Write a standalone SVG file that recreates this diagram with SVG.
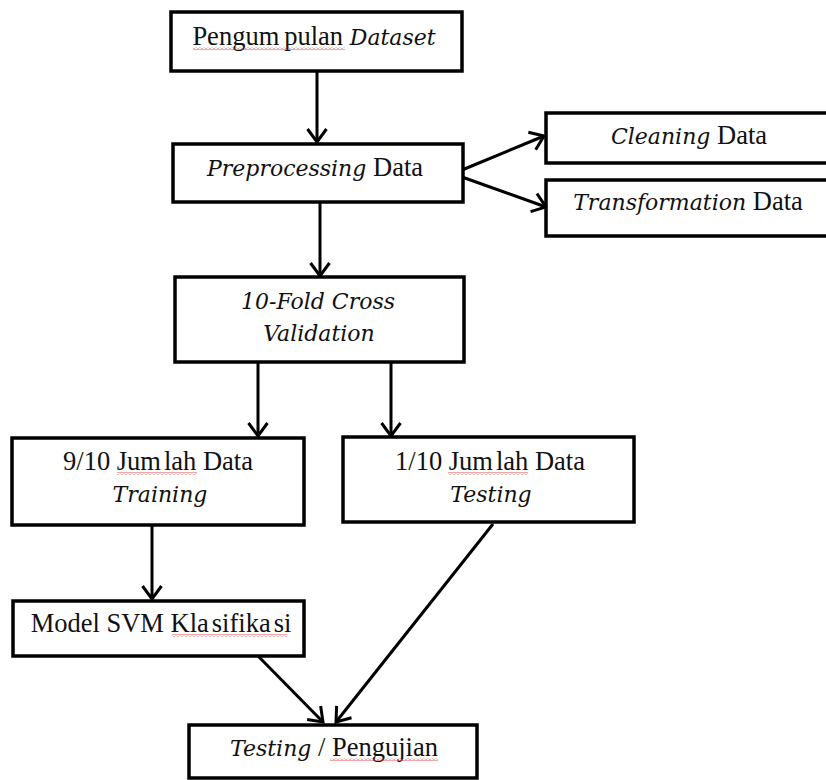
<svg xmlns="http://www.w3.org/2000/svg" width="826" height="780" viewBox="0 0 826 780">
<style>
.box{fill:#fff;stroke:#000;stroke-width:3.5}
.t{font-family:"Liberation Serif","Times New Roman",serif;font-size:26.5px;fill:#111;text-anchor:middle}
.i{font-family:"DejaVu Serif",serif;font-style:italic;font-size:22px}
.c{stroke:#000;stroke-width:3;fill:none}
.sq{fill:url(#sq)}
</style>
<defs>
<marker id="ah" markerUnits="userSpaceOnUse" viewBox="-3 -3 19 25" refX="13" refY="9.5" markerWidth="19" markerHeight="25" orient="auto">
<path d="M0,0 L13,9.5 L0,19" fill="none" stroke="#000" stroke-width="3"/>
</marker>
<pattern id="sq" width="4" height="3" patternUnits="userSpaceOnUse">
<path d="M0,2.5 L2,0.5 L4,2.5" fill="none" stroke="#e03a3a" stroke-width="0.9"/>
</pattern>
</defs>
<rect width="826" height="780" fill="#fff"/>
<g id="connectors">
<line class="c" x1="317" y1="71" x2="317" y2="142" marker-end="url(#ah)"/>
<line class="c" x1="462" y1="170" x2="544" y2="136" marker-end="url(#ah)"/>
<line class="c" x1="462" y1="177" x2="546" y2="207" marker-end="url(#ah)"/>
<line class="c" x1="320" y1="202" x2="320" y2="276" marker-end="url(#ah)"/>
<line class="c" x1="258" y1="362" x2="258" y2="436" marker-end="url(#ah)"/>
<line class="c" x1="391" y1="362" x2="391" y2="436" marker-end="url(#ah)"/>
<line class="c" x1="152" y1="525" x2="152" y2="599" marker-end="url(#ah)"/>
<line class="c" x1="258" y1="656" x2="323" y2="722" marker-end="url(#ah)"/>
<line class="c" x1="493" y1="524" x2="336" y2="722" marker-end="url(#ah)"/>
</g>
<g id="pengumpulan">
<rect class="box" x="171" y="12" width="291" height="59"/>
<text class="t" x="314" y="45">Pengum<tspan dx="5">pulan</tspan> <tspan class="i">Dataset</tspan></text>
<rect class="sq" x="193" y="47" width="152" height="3"/>
</g>
<g id="preprocessing">
<rect class="box" x="173" y="144" width="290" height="58"/>
<text class="t" x="315" y="176"><tspan class="i">Preprocessing</tspan> Data</text>
</g>
<g id="cleaning">
<rect class="box" x="546" y="113" width="290" height="50"/>
<text class="t" x="689" y="144"><tspan class="i">Cleaning</tspan> Data</text>
</g>
<g id="transformation">
<rect class="box" x="546" y="180" width="290" height="56"/>
<text class="t" x="688" y="210"><tspan class="i">Transformation</tspan> Data</text>
</g>
<g id="crossval">
<rect class="box" x="175" y="277" width="289" height="85"/>
<text class="t i" x="318" y="309">10-Fold Cross</text>
<text class="t i" x="319" y="341">Validation</text>
</g>
<g id="training">
<rect class="box" x="12" y="438" width="292" height="87"/>
<text class="t" x="158" y="470">9/10 Jum<tspan dx="3">lah</tspan> Data</text>
<text class="t i" x="160" y="502">Training</text>
<rect class="sq" x="117" y="472" width="80" height="3"/>
</g>
<g id="testing">
<rect class="box" x="343" y="437" width="291" height="85"/>
<text class="t" x="490" y="470">1/10 Jum<tspan dx="3">lah</tspan> Data</text>
<text class="t i" x="491" y="502">Testing</text>
<rect class="sq" x="448" y="472" width="80" height="3"/>
</g>
<g id="model">
<rect class="box" x="13" y="601" width="291" height="55"/>
<text class="t" x="161" y="632">Model SVM Kla<tspan dx="3">sifika</tspan><tspan dx="3">si</tspan></text>
<rect class="sq" x="172" y="634" width="115" height="3"/>
</g>
<g id="pengujian">
<rect class="box" x="189" y="725" width="288" height="53"/>
<text class="t" x="334" y="756"><tspan class="i">Testing</tspan> / Pengujian</text>
<rect class="sq" x="330" y="758" width="108" height="3"/>
</g>
</svg>
